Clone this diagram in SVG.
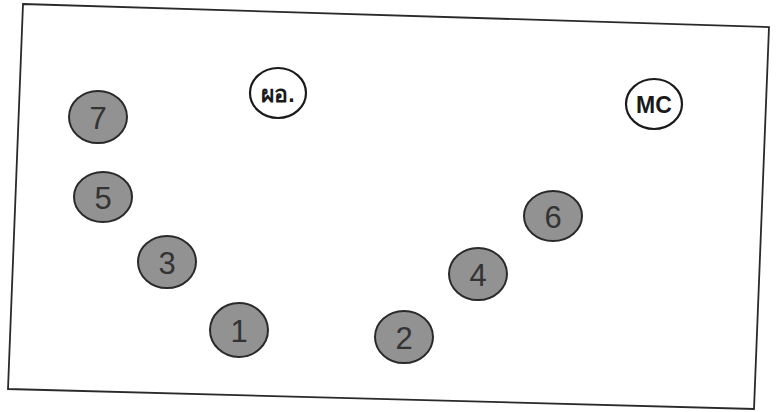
<svg xmlns="http://www.w3.org/2000/svg" width="776" height="412" viewBox="0 0 776 412">
<style>
.room{fill:#fff;stroke:#2a2a2a;stroke-width:1.8}
.seat{fill:#929292;stroke:#2a2a2a;stroke-width:2}
.seat-t{font-family:"Liberation Sans",Arial,sans-serif;font-size:31px;fill:#333;text-anchor:middle;dominant-baseline:central}
.lead{fill:#fff;stroke:#1a1a1a;stroke-width:2.2}
.lead-t{font-family:"Liberation Sans","Noto Sans",sans-serif;font-size:23px;font-weight:bold;fill:#1a1a1a;text-anchor:middle;dominant-baseline:central}
</style>
<rect width="776" height="412" fill="#fff"/>
<polygon class="room" points="23,4 769,27 754,409 8,389"/>
<g id="director"><ellipse class="lead" cx="278" cy="93" rx="28" ry="25"/><text class="lead-t" x="278" y="94">ผอ.</text></g>
<g id="mc"><ellipse class="lead" cx="654" cy="104" rx="28" ry="25"/><text class="lead-t" x="654" y="105">MC</text></g>
<g id="seat7"><ellipse class="seat" cx="98" cy="117" rx="29" ry="26"/><text class="seat-t" x="98" y="118">7</text></g>
<g id="seat5"><ellipse class="seat" cx="103" cy="197" rx="29" ry="25"/><text class="seat-t" x="103" y="198">5</text></g>
<g id="seat3"><ellipse class="seat" cx="167" cy="262" rx="29" ry="26"/><text class="seat-t" x="167" y="263">3</text></g>
<g id="seat1"><ellipse class="seat" cx="239" cy="330" rx="29" ry="27"/><text class="seat-t" x="239" y="331">1</text></g>
<g id="seat2"><ellipse class="seat" cx="404" cy="337" rx="29" ry="26"/><text class="seat-t" x="404" y="338">2</text></g>
<g id="seat4"><ellipse class="seat" cx="478" cy="274" rx="29" ry="26"/><text class="seat-t" x="478" y="275">4</text></g>
<g id="seat6"><ellipse class="seat" cx="553" cy="216" rx="29" ry="25"/><text class="seat-t" x="553" y="217">6</text></g>
<g id="connectors"></g>
</svg>
